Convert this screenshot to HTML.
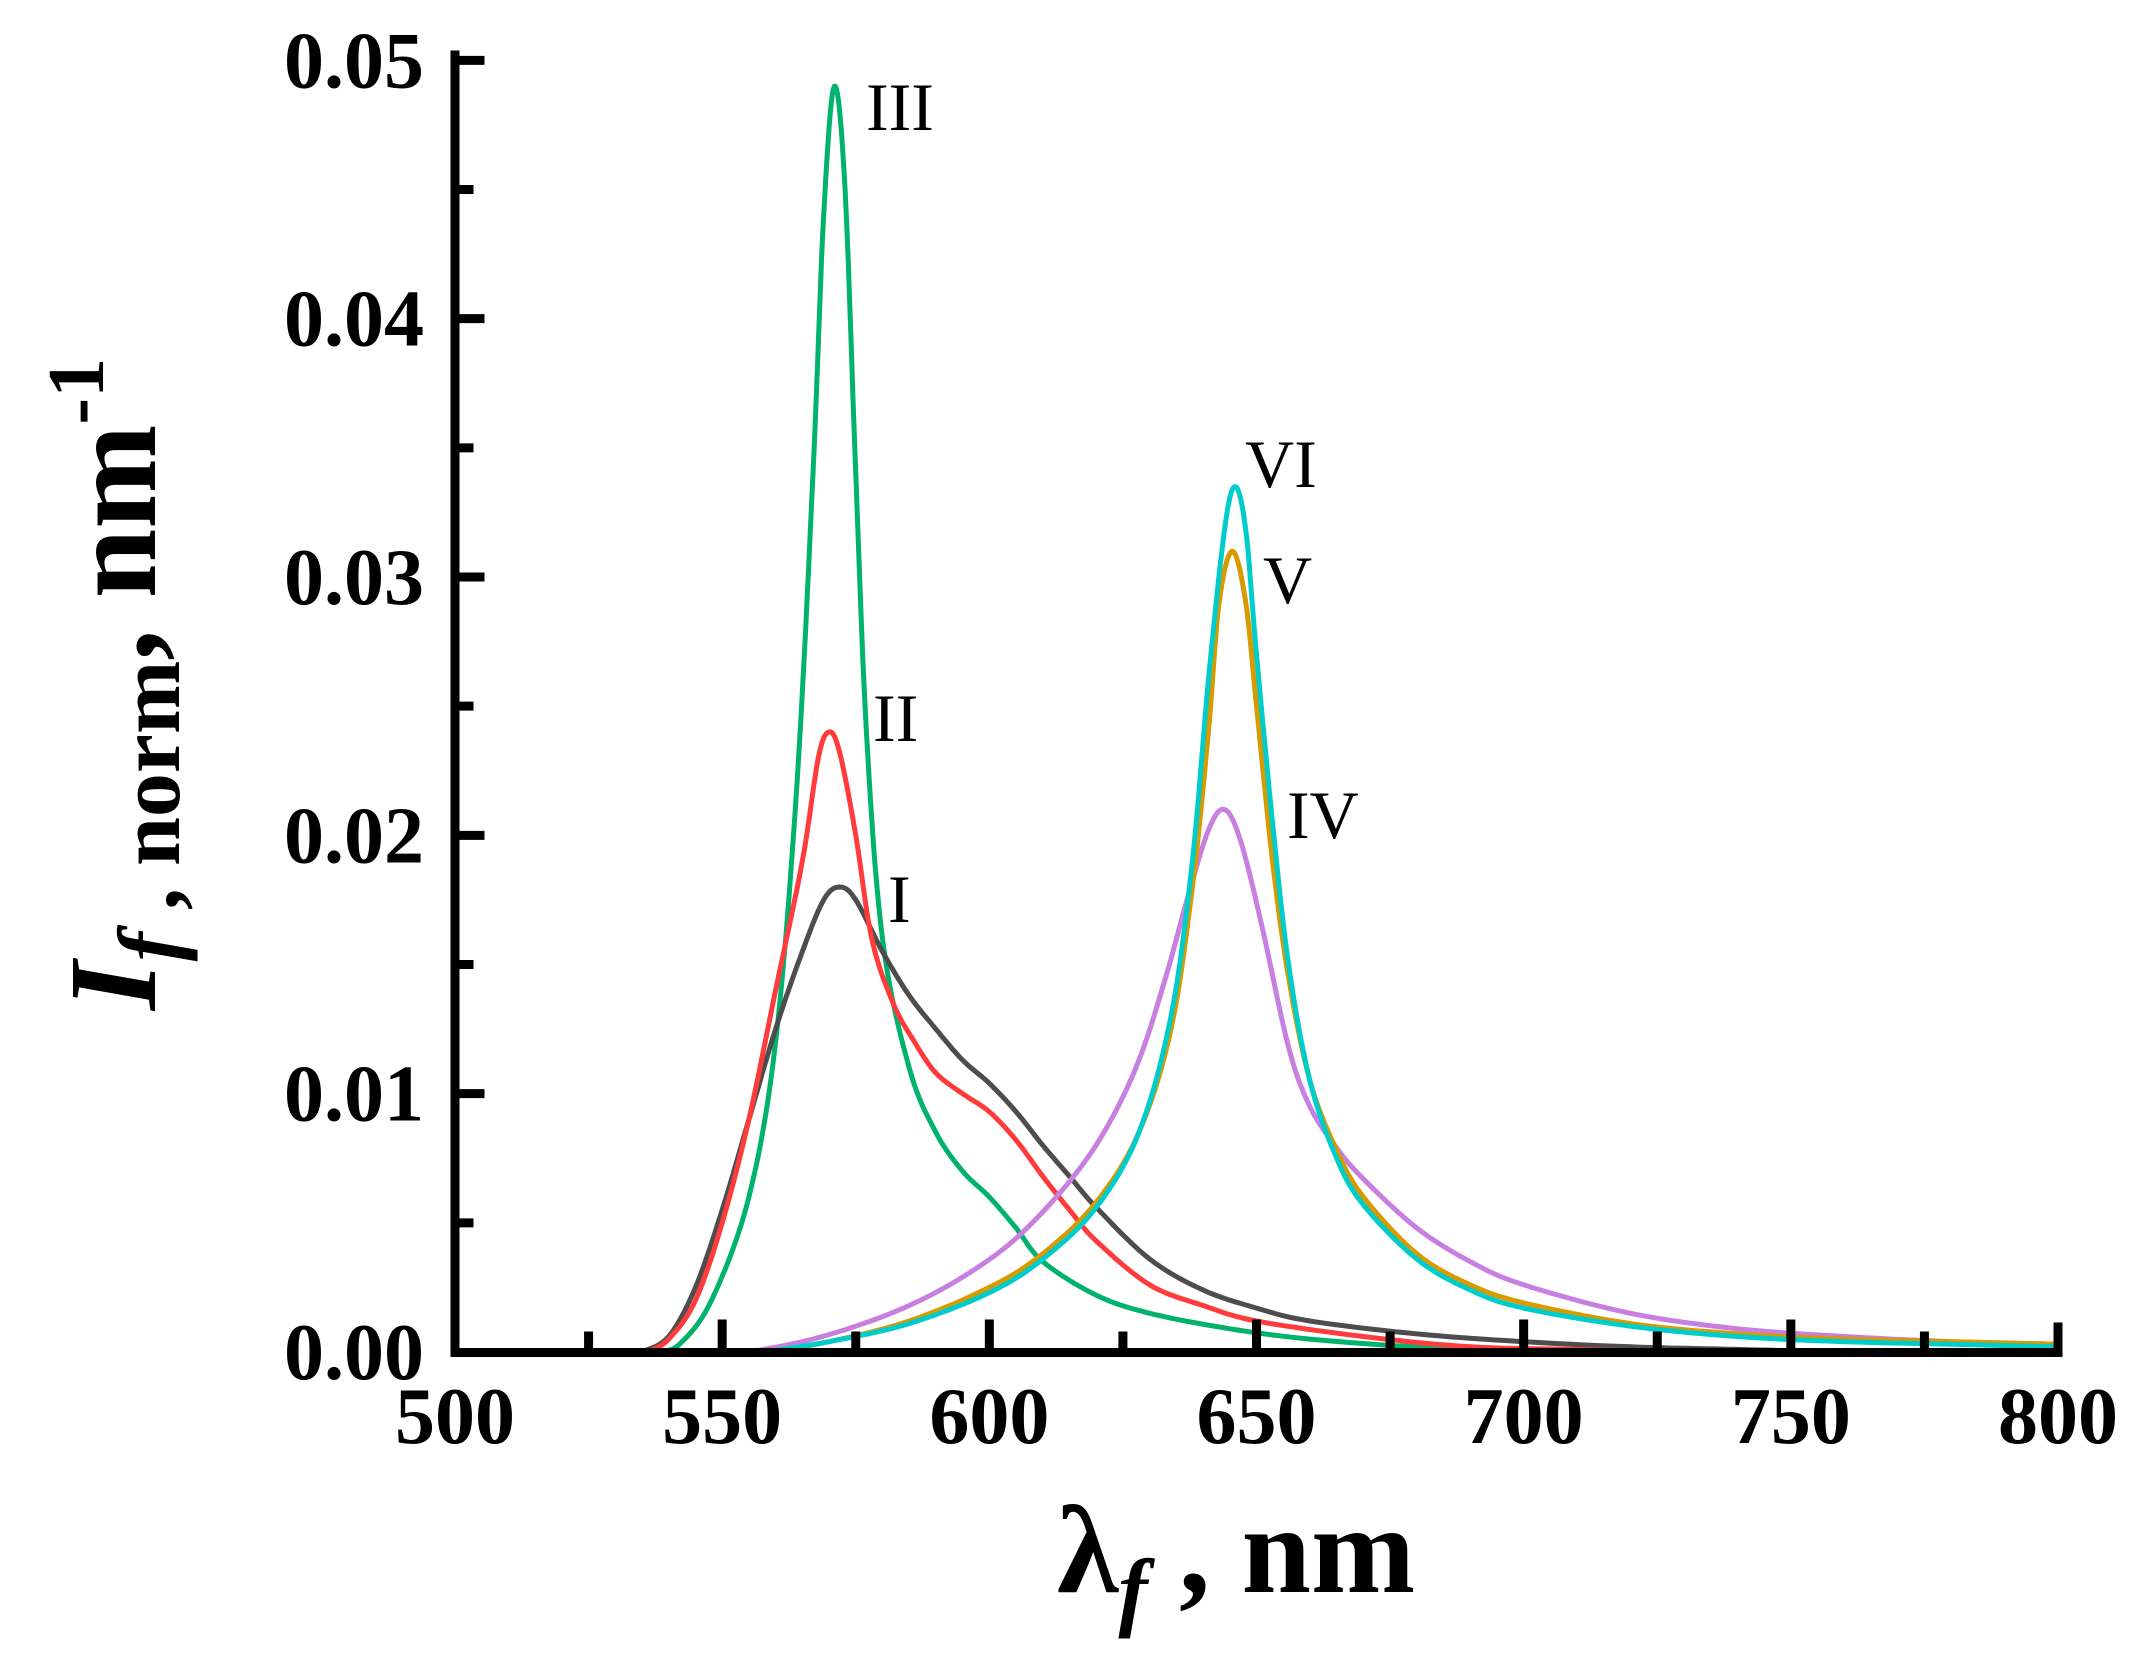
<!DOCTYPE html>
<html><head><meta charset="utf-8"><style>
html,body{margin:0;padding:0;background:#fff;}
svg{display:block;}
text{font-family:"Liberation Serif","DejaVu Serif",serif;}
</style></head><body>
<svg id="s" width="2143" height="1673" viewBox="0 0 2143 1673" xmlns="http://www.w3.org/2000/svg">
<g id="curves" fill="none" stroke-width="5" stroke-linejoin="round"></g>
<g id="axes" stroke="#000" stroke-width="9" fill="none"></g>
<g font-size="80" font-weight="bold" fill="#000" id="lbl"></g>
<g font-size="68" fill="#000">
<text x="866" y="130">III</text>
<text x="873" y="741">II</text>
<text x="888" y="922">I</text>
<text x="1287" y="838">IV</text>
<text x="1263" y="603">V</text>
<text x="1245" y="487">VI</text>
</g>
<text x="1057" y="1592" font-size="125" font-weight="bold">λ<tspan font-style="italic" font-size="88" dy="28">f</tspan><tspan dy="-28"> , nm</tspan></text>
<text transform="translate(155,1010) rotate(-90)" font-size="125" font-weight="bold"><tspan font-style="italic">I</tspan><tspan font-style="italic" font-size="88" dy="24">f</tspan><tspan font-size="88"> , norm</tspan><tspan dy="-24">, nm</tspan><tspan font-size="80" dy="-52">-1</tspan></text>
</svg>
<script>
var X0=455,XS=(2058-455)/300,Y0=1352,YS=25833;
function px(l){return X0+(l-500)*XS;}function py(v){return Y0-v*YS;}
var data={
"#00b26b":[[538,0],[542,0.0003],[548,0.002],[555,0.006],[560,0.012],[564,0.022],[567,0.034],[569,0.044],[571,0.049],[573,0.045],[575,0.034],[577,0.024],[580,0.016],[585,0.011],[590,0.0085],[595,0.007],[600,0.006],[605,0.0048],[610,0.0035],[620,0.0022],[630,0.0015],[645,0.0009],[660,0.0005],[680,0.0002],[700,0.0001],[720,0]],
"#4d4d4d":[[535,0],[540,0.0006],[545,0.0025],[550,0.0055],[555,0.009],[560,0.0125],[565,0.0155],[569,0.0175],[572,0.018],[575,0.0175],[580,0.0155],[585,0.0138],[590,0.0125],[595,0.0113],[600,0.0104],[605,0.0093],[610,0.008],[615,0.0068],[620,0.0056],[630,0.0036],[640,0.0024],[650,0.0017],[660,0.0012],[680,0.0007],[700,0.0004],[720,0.0002],[740,0.0001],[760,0]],
"#ff3b3b":[[536,0],[540,0.0005],[545,0.002],[550,0.005],[555,0.009],[560,0.014],[565,0.019],[568,0.023],[570,0.024],[572,0.0232],[575,0.02],[578,0.016],[582,0.0135],[586,0.012],[590,0.0108],[595,0.01],[600,0.0093],[605,0.0082],[610,0.0068],[615,0.0055],[620,0.0043],[630,0.0026],[640,0.0018],[650,0.0012],[670,0.0006],[690,0.0002],[710,0.0001],[730,0]],
"#c77fe0":[[555,0],[565,0.0004],[575,0.001],[585,0.0018],[595,0.0029],[605,0.0044],[615,0.0066],[622,0.0087],[628,0.0113],[633,0.0145],[637,0.0175],[641,0.0202],[644,0.021],[647,0.0198],[651,0.0165],[656,0.0118],[660,0.0095],[665,0.0079],[670,0.0067],[680,0.0048],[690,0.0035],[700,0.0026],[720,0.0015],[740,0.0009],[760,0.0006],[780,0.0004],[800,0.0003]],
"#d99a00":[[558,0],[570,0.0004],[585,0.0012],[600,0.0025],[610,0.0038],[620,0.0058],[628,0.0085],[634,0.0125],[638,0.018],[641,0.024],[643,0.029],[645.5,0.031],[648,0.029],[650,0.025],[653,0.019],[656,0.0145],[660,0.0105],[665,0.0078],[670,0.006],[680,0.0038],[690,0.0026],[700,0.0019],[720,0.0011],[740,0.0007],[760,0.0005],[780,0.0004],[800,0.0003]],
"#00cccc":[[558,0],[570,0.0004],[585,0.0011],[600,0.0023],[610,0.0036],[620,0.0056],[628,0.0085],[634,0.013],[638,0.019],[641,0.026],[644,0.0318],[646,0.0335],[648,0.0318],[650,0.027],[653,0.0205],[656,0.015],[660,0.0105],[665,0.0075],[670,0.0057],[680,0.0036],[690,0.0024],[700,0.0017],[720,0.001],[740,0.0006],[760,0.0004],[780,0.0003],[800,0.0002]]
};
var g=document.getElementById('curves'),NS="http://www.w3.org/2000/svg";
for(var c in data){var p=data[c],d="";
 for(var i=0;i<p.length-1;i++){var p0=p[Math.max(0,i-1)],p1=p[i],p2=p[i+1],p3=p[Math.min(p.length-1,i+2)];
  for(var k=0;k<=10;k++){var t=k/10,t2=t*t,t3=t2*t;
   function cr(a,b,c2,e){return 0.5*((2*b)+(-a+c2)*t+(2*a-5*b+4*c2-e)*t2+(-a+3*b-3*c2+e)*t3);}
   var x=cr(p0[0],p1[0],p2[0],p3[0]),y=Math.max(0,cr(p0[1],p1[1],p2[1],p3[1]));
   d+=(d?"L":"M")+px(x).toFixed(1)+","+py(y).toFixed(1);}}
 var e=document.createElementNS(NS,"path");e.setAttribute("d",d);e.setAttribute("stroke",c);g.appendChild(e);}
var a=document.getElementById('axes'),s="M455,55L455,1352.5L2058,1352.5L2058,1327";
for(var v=25;v<300;v+=25){var x=px(500+v);var L=(v%50==0)?22:10;s+="M"+x+",1346L"+x+","+(1346-L);}
for(var j=1;j<=10;j++){var y=py(j*0.005);var L=(j%2==0)?20:9;s+="M460,"+y+"L"+(460+L)+","+y;}
var e=document.createElementNS(NS,"path");e.setAttribute("d",s);e.setAttribute("stroke-linecap","square");a.appendChild(e);
var l=document.getElementById('lbl');
for(var v=500;v<=800;v+=50){var t=document.createElementNS(NS,"text");t.setAttribute("x",px(v));t.setAttribute("y",1443);t.setAttribute("text-anchor","middle");t.textContent=v;l.appendChild(t);}
for(var j=0;j<=5;j++){var t=document.createElementNS(NS,"text");t.setAttribute("x",424);t.setAttribute("y",py(j*0.01)+27);t.setAttribute("text-anchor","end");t.textContent=(j*0.01).toFixed(2);l.appendChild(t);}
</script>
</body></html>
